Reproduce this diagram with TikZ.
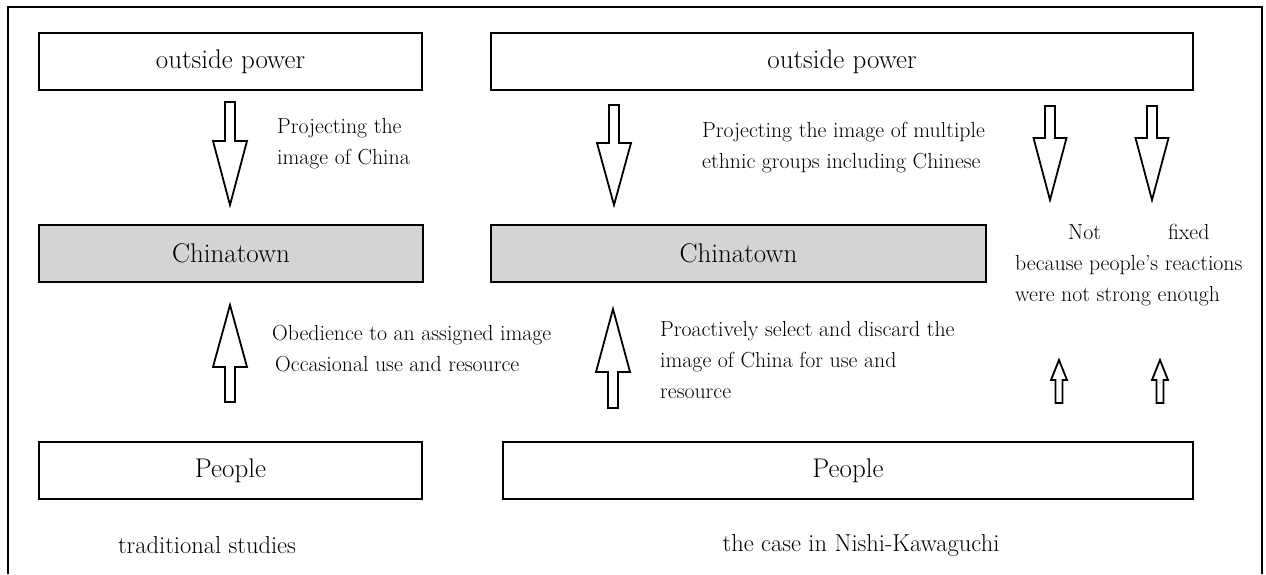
\documentclass[tikz,border=0pt]{standalone}
\usepackage{tikz}
\usetikzlibrary{positioning}

\begin{document}
\begin{tikzpicture}[x=1pt, y=1pt, every node/.style={font=\fontsize{21.8}{31}\selectfont, inner sep=0pt}, box/.style={draw,line width=1.6pt,minimum height=57pt,font=\fontsize{27}{30}\selectfont}, shaded/.style={box,fill=black!17}, note/.style={align=left,anchor=west}, caption/.style={font=\fontsize{24.5}{30}\selectfont}, pics/blockarrow/.style args={#1/#2/#3/#4}{code={\draw[line width=1.8pt,fill=white,line join=miter] (-#4,0) -- (-#4,#2-#1) -- (-#3,#2-#1) -- (0,-#1) -- (#3,#2-#1) -- (#4,#2-#1) -- (#4,0) -- cycle;}}]
\useasboundingbox (0,0) rectangle (1266,574);
\draw[line width=1.2pt] (8,0) -- (8,567) -- (1262,567) -- (1262,0);
% boxes
\node[box, minimum width=383pt] (power1) at (230.5,512.5) {outside power};
\node[box, minimum width=702pt] (power2) at (842,512.5) {outside power};
\node[shaded, minimum width=384pt] (china1) at (231,320.5) {Chinatown};
\node[shaded, minimum width=495pt] (china2) at (738.5,320.5) {Chinatown};
\node[box, minimum width=383pt] (people1) at (230.5,103.5) {People};
\node[box, minimum width=690pt] (people2) at (848,103.5) {People};
% arrows
\pic at (230,472) {blockarrow=103/64/17/5};
\pic at (614,469) {blockarrow=100/62/17/5};
\pic at (1050,468) {blockarrow=94/62/16.5/5};
\pic at (1152,468) {blockarrow=94/62/16.5/5};
\pic[yscale=-1] at (230,172) {blockarrow=97/62/17/5};
\pic[yscale=-1] at (613,166) {blockarrow=99/63/17/5};
\pic[yscale=-1] at (1059,171) {blockarrow=43/20/8/3.5};
\pic[yscale=-1] at (1160,171) {blockarrow=43/20/8/3.5};
% labels
\node[note] (proj1) at (277,430) {Projecting the\\image of China};
\node[note] (proj2) at (702,426) {Projecting the image of multiple\\ethnic groups including Chinese};
\node[note] (obey) at (272,225) {Obedience to an assigned image\\\hspace*{3pt}Occasional use and resource};
\node[note] (select) at (660,214) {Proactively select and discard the\\image of China for use and\\resource};
\node[note] (notfixed) at (1015,309) {\hspace*{53pt}Not\hspace{67pt}fixed\\because people's reactions\\were not strong enough};
\node[caption] (trad) at (207,29) {traditional studies};
\node[caption] (nishi) at (861,29) {the case in Nishi-Kawaguchi};
\end{tikzpicture}
\end{document}
